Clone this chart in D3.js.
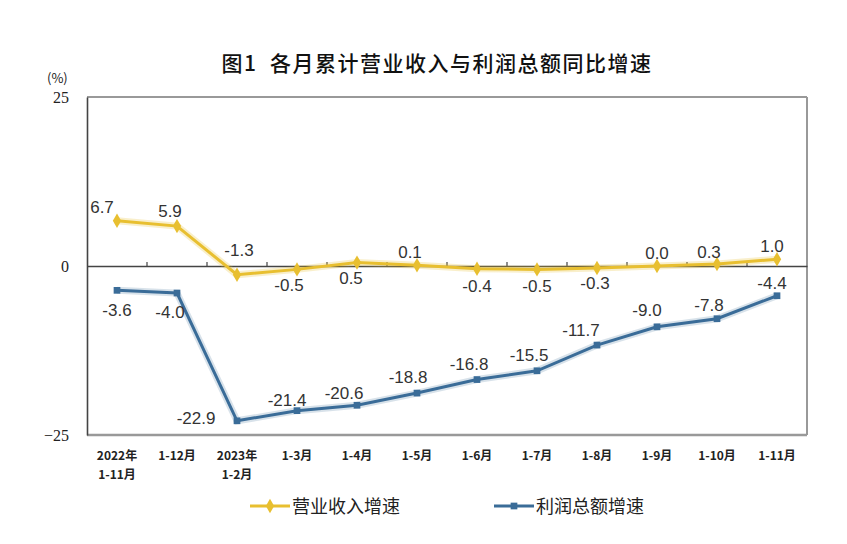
<!DOCTYPE html>
<html><head><meta charset="utf-8">
<script src="https://cdn.jsdelivr.net/npm/d3@7"></script>
<style>body{margin:0;background:#fff;} svg{display:block;}</style>
</head><body>
<svg id="c" width="847" height="544"></svg>
<script>
const categories = ["2022年\n1-11月","1-12月","2023年\n1-2月","1-3月","1-4月","1-5月","1-6月","1-7月","1-8月","1-9月","1-10月","1-11月"];
const revenue = [6.7, 5.9, -1.3, -0.5, 0.5, 0.1, -0.4, -0.5, -0.3, 0.0, 0.3, 1.0];
const profit = [-3.6, -4.0, -22.9, -21.4, -20.6, -18.8, -16.8, -15.5, -11.7, -9.0, -7.8, -4.4];
const yTicks = [25, 0, -25];
const seriesNames = ["营业收入增速", "利润总额增速"];
const title = "图1  各月累计营业收入与利润总额同比增速";
// label offsets (style, pixels from the point to the label baseline)
const revDx = [-15, -7, 2, -8, -6, -7, 0, 0, -2, 0, -8, -5];
const revDy = [-8, -9, -19, 22, 21, -7, 23, 23, 21, -7, -6, -7];
const proDx = [0, -7, -41, -10, -13, -9, -8, -8, -16, -10, -8, -5];
const proDy = [26, 25, 3, -5, -6, -10, -10, -10, -9, -11, -8, -7];

const svg = d3.select("#c");
const M = {l: 87, r: 807, t: 97, b: 435};
const x = d3.scaleBand().domain(d3.range(categories.length)).range([M.l, M.r]);
const y = d3.scaleLinear().domain([-25, 25]).range([M.b, M.t]);
const cx = i => x(i) + x.bandwidth()/2;

const yellow = "#E8BF30", blue = "#3A6C98";

svg.append("text").attr("x", 437).attr("y", 71).attr("text-anchor","middle")
  .attr("xml:space","preserve").style("white-space","pre")
  .attr("font-family","Noto Sans CJK SC").attr("font-size",21).attr("font-weight",500)
  .attr("letter-spacing",1.5).attr("fill","#111").text(title);

// frame
svg.append("line").attr("x1",M.l).attr("x2",M.r).attr("y1",M.t).attr("y2",M.t).attr("stroke","#999").attr("stroke-width",2);
svg.append("line").attr("x1",M.r).attr("x2",M.r).attr("y1",M.t).attr("y2",M.b).attr("stroke","#999").attr("stroke-width",2);
svg.append("line").attr("x1",M.l).attr("x2",M.r).attr("y1",M.b).attr("y2",M.b).attr("stroke","#999").attr("stroke-width",2.5);

// y axis
const yAxis = d3.axisLeft(y).tickValues(yTicks).tickSize(0).tickPadding(18);
const gy = svg.append("g").attr("transform",`translate(${M.l},0)`).call(yAxis);
gy.select(".domain").attr("stroke","#444").attr("stroke-width",1.6);
gy.selectAll("text").attr("font-family","Liberation Serif").attr("font-size",16).attr("fill","#222");
svg.append("text").attr("x",47).attr("y",83).attr("font-family","Noto Sans CJK SC").attr("font-size",13).attr("fill","#222").text("(%)");

// zero axis
const xAxis = d3.axisTop(x).tickSize(0).tickFormat("");
const gx = svg.append("g").attr("transform",`translate(0,${y(0)})`).call(xAxis);
gx.select(".domain").attr("stroke","#444").attr("stroke-width",1.4);
svg.append("g").selectAll("line").data(d3.range(1, categories.length)).join("line")
  .attr("x1", i => x(i)).attr("x2", i => x(i)).attr("y1", y(0)).attr("y2", y(0)-4)
  .attr("stroke","#444").attr("stroke-width",1.2);

// category labels
const cl = svg.append("g").selectAll("text").data(categories).join("text")
  .attr("x",(d,i)=>cx(i)).attr("y",460).attr("text-anchor","middle")
  .attr("font-family","Noto Sans CJK SC").attr("font-size",12).attr("font-weight",700).attr("fill","#222");
cl.each(function(d){
  const parts = d.split("\n");
  const t = d3.select(this);
  parts.forEach((p,k)=>t.append("tspan").attr("x",t.attr("x")).attr("dy",k?19:0).text(p));
});

const line = d3.line().x((d,i)=>cx(i)).y(d=>y(d));
svg.append("path").datum(revenue).attr("d",line).attr("fill","none").attr("stroke",yellow).attr("stroke-opacity",0.25).attr("stroke-width",7);
svg.append("path").datum(revenue).attr("d",line).attr("fill","none").attr("stroke",yellow).attr("stroke-width",3);
svg.append("path").datum(profit).attr("d",line).attr("fill","none").attr("stroke",blue).attr("stroke-opacity",0.2).attr("stroke-width",7);
svg.append("path").datum(profit).attr("d",line).attr("fill","none").attr("stroke",blue).attr("stroke-width",3);

const diamond = d3.symbol().type(d3.symbolDiamond).size(60);
const square = d3.symbol().type(d3.symbolSquare).size(45);
svg.append("g").selectAll("path").data(revenue).join("path").attr("d",diamond)
  .attr("transform",(d,i)=>`translate(${cx(i)},${y(d)})`).attr("fill",yellow);
svg.append("g").selectAll("path").data(profit).join("path").attr("d",square)
  .attr("transform",(d,i)=>`translate(${cx(i)},${y(d)})`).attr("fill",blue);

function lbl(vals, dx, dy){
  svg.append("g").selectAll("text").data(vals).join("text")
    .attr("x",(d,i)=> cx(i)+dx[i])
    .attr("y",(d,i)=> y(d)+dy[i])
    .attr("text-anchor","middle")
    .attr("font-family","Liberation Sans").attr("font-size",17).attr("fill","#333")
    .text(d=>d.toFixed(1));
}
lbl(revenue, revDx, revDy);
lbl(profit, proDx, proDy);

// legend
const lg = [{c:yellow, s:diamond, x:250, name:seriesNames[0]},{c:blue, s:square, x:494, name:seriesNames[1]}];
lg.forEach(o=>{
  svg.append("line").attr("x1",o.x).attr("x2",o.x+40).attr("y1",506).attr("y2",506).attr("stroke",o.c).attr("stroke-width",3);
  svg.append("path").attr("d",o.s).attr("transform",`translate(${o.x+20},506)`).attr("fill",o.c);
  svg.append("text").attr("x",o.x+42).attr("y",513).attr("font-family","Noto Sans CJK SC").attr("font-size",18).attr("fill","#222").text(o.name);
});
</script>
</body></html>
